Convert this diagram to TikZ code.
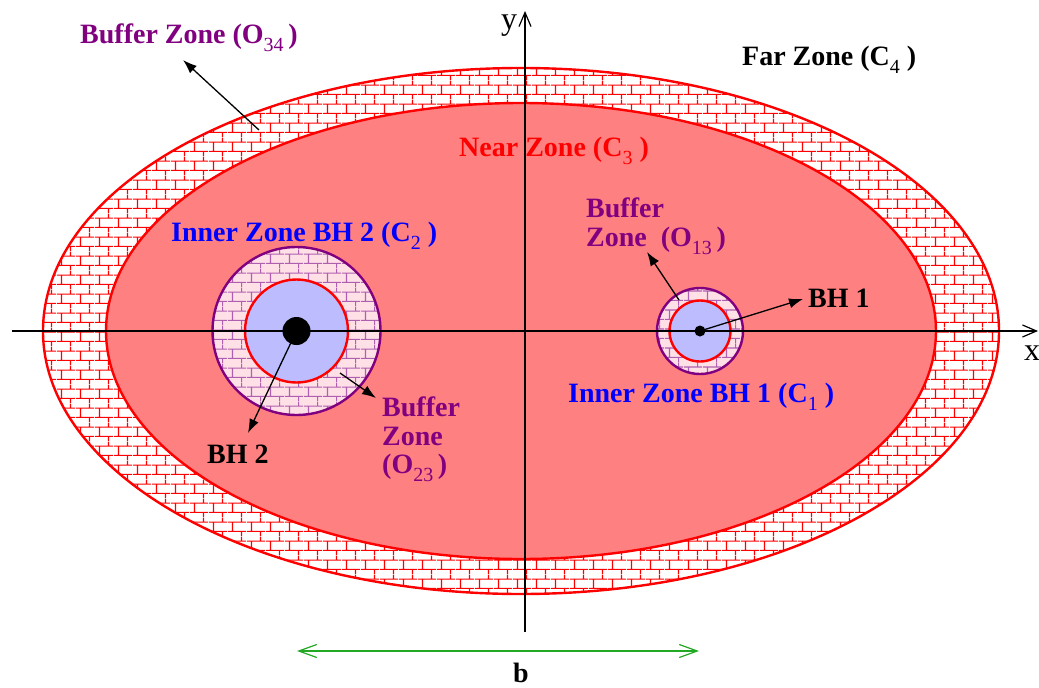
\documentclass[tikz,border=0pt]{standalone}
\usepackage{fontspec}
\setmainfont{Liberation Serif}
\usetikzlibrary{patterns.meta,arrows.meta}
\definecolor{nearred}{RGB}{255,128,128}
\definecolor{innerblue}{RGB}{188,188,255}
\definecolor{bufpink}{RGB}{255,224,230}
\definecolor{purp}{RGB}{128,0,128}
\definecolor{brickpurp}{RGB}{175,95,175}
\definecolor{garrow}{RGB}{34,168,34}
\definecolor{tblue}{RGB}{0,0,255}
\newcommand\lowsub[1]{\raisebox{-0.32em}{\fontsize{20}{20}\selectfont\mdseries #1}}
\tikzdeclarepattern{
  name=bricksnineteen,
  type=uncolored,
  bottom left={(0pt,0pt)},
  top right={(19pt,19.2pt)},
  tile size={(19pt,19.2pt)},
  code={
    \draw[line width=1.2pt] (0pt,4.8pt) -- (19pt,4.8pt) (0pt,14.4pt) -- (19pt,14.4pt)
          (4.75pt,4.8pt) -- (4.75pt,14.4pt)
          (14.25pt,14.4pt) -- (14.25pt,19.2pt) (14.25pt,0pt) -- (14.25pt,4.8pt);
  }
}
\tikzset{
  lbl/.style={font=\fontsize{28}{30}\selectfont\bfseries, inner sep=0pt, anchor=base west},
  ptr/.style={-{Latex[length=14pt,width=10pt]}, line width=1.3pt, black},
  axis/.style={line width=2pt, black, -{Straight Barb[length=14pt,width=12pt,line width=1.2pt]}},
  ring/.style={line width=2.4pt},
}
\begin{document}
\begin{tikzpicture}[x=1pt,y=-1pt]
\useasboundingbox (0,0) rectangle (1039,688);
% far / outer buffer ring
\coordinate (ctr) at (521,331);
\fill[white] (ctr) ellipse [x radius=478pt, y radius=263pt];
\fill[pattern=bricksnineteen, pattern color=red] (ctr) ellipse [x radius=478pt, y radius=263pt];
\draw[red, ring] (ctr) ellipse [x radius=478pt, y radius=263pt];
% near zone
\filldraw[fill=nearred, draw=red, ring] (ctr) ellipse [x radius=415pt, y radius=228pt];
% BH 2 zones
\coordinate (c2) at (296.5,331);
\fill[bufpink] (c2) circle [radius=84pt];
\fill[pattern=bricksnineteen, pattern color=brickpurp] (c2) circle [radius=84pt];
\draw[purp, ring] (c2) circle [radius=84pt];
\filldraw[fill=innerblue, draw=red, ring] (c2) circle [radius=51.5pt];
% BH 1 zones
\coordinate (c1) at (700,331);
\fill[bufpink] (c1) circle [radius=43pt];
\fill[pattern=bricksnineteen, pattern color=brickpurp] (c1) circle [radius=43pt];
\draw[purp, ring] (c1) circle [radius=43pt];
\filldraw[fill=innerblue, draw=red, ring] (c1) circle [radius=30.5pt];
% axes
\coordinate (xs) at (12,331);
\coordinate (xe) at (1038,331);
\coordinate (ys) at (525,632);
\coordinate (ye) at (525,11);
\draw[axis] (xs) -- (xe);
\draw[axis] (ys) -- (ye);
\node[font=\fontsize{32}{32}\selectfont, inner sep=0pt, anchor=base west] (xl) at (1024,360) {x};
\node[font=\fontsize{32}{32}\selectfont, inner sep=0pt, anchor=base west] (yl) at (501,29) {y};
% black holes
\node[circle, fill=black, minimum size=28pt, inner sep=0pt] (bh2) at (c2) {};
\node[circle, fill=black, minimum size=11pt, inner sep=0pt] (bh1) at (c1) {};
% labels
\node[lbl, purp] (o34) at (80,43) {Buffer Zone (O\lowsub{34}\,)};
\node[lbl, black] (far) at (742,65) {Far Zone (C\lowsub{4} )};
\node[lbl, red] (near) at (459,156) {Near Zone (C\lowsub{3} )};
\node[lbl, tblue] (in2) at (171,241) {Inner Zone BH 2 (C\lowsub{2} )};
\node[lbl, tblue] (in1) at (568,402) {Inner Zone BH 1 (C\lowsub{1} )};
\node[lbl, black] (bh1l) at (808,307) {BH 1};
\node[lbl, black] (bh2l) at (207,463) {BH 2};
\node[lbl, purp] (o13a) at (586,217) {Buffer};
\node[lbl, purp] (o13b) at (586,246) {Zone\ \ (O\lowsub{13}\,)};
\node[lbl, purp] (o23a) at (382,416) {Buffer};
\node[lbl, purp] (o23b) at (382,445) {Zone};
\node[lbl, purp] (o23c) at (382,473) {(O\lowsub{23}\,)};
% pointers
\coordinate (t34s) at (259,130);
\coordinate (t34e) at (183,60);
\draw[ptr] (t34s) -- (t34e);
\coordinate (t2e) at (248,433);
\draw[ptr] (bh2.center) -- (t2e);
\coordinate (t23s) at (340,373);
\coordinate (t23e) at (376,398);
\draw[ptr] (t23s) -- (t23e);
\coordinate (t13s) at (679,300);
\coordinate (t13e) at (647,252);
\draw[ptr] (t13s) -- (t13e);
\coordinate (t1e) at (803,299);
\draw[ptr] (bh1.center) -- (t1e);
% separation b
\coordinate (bl) at (297,651);
\coordinate (br) at (699,651);
\draw[garrow, line width=2pt, {Straight Barb[length=18pt,width=13pt,line width=1.2pt]}-{Straight Barb[length=18pt,width=13pt,line width=1.2pt]}] (bl) -- (br);
\node[font=\fontsize{28}{30}\selectfont\bfseries, inner sep=0pt, anchor=base] (bl2) at (521,682) {b};
\end{tikzpicture}
\end{document}
